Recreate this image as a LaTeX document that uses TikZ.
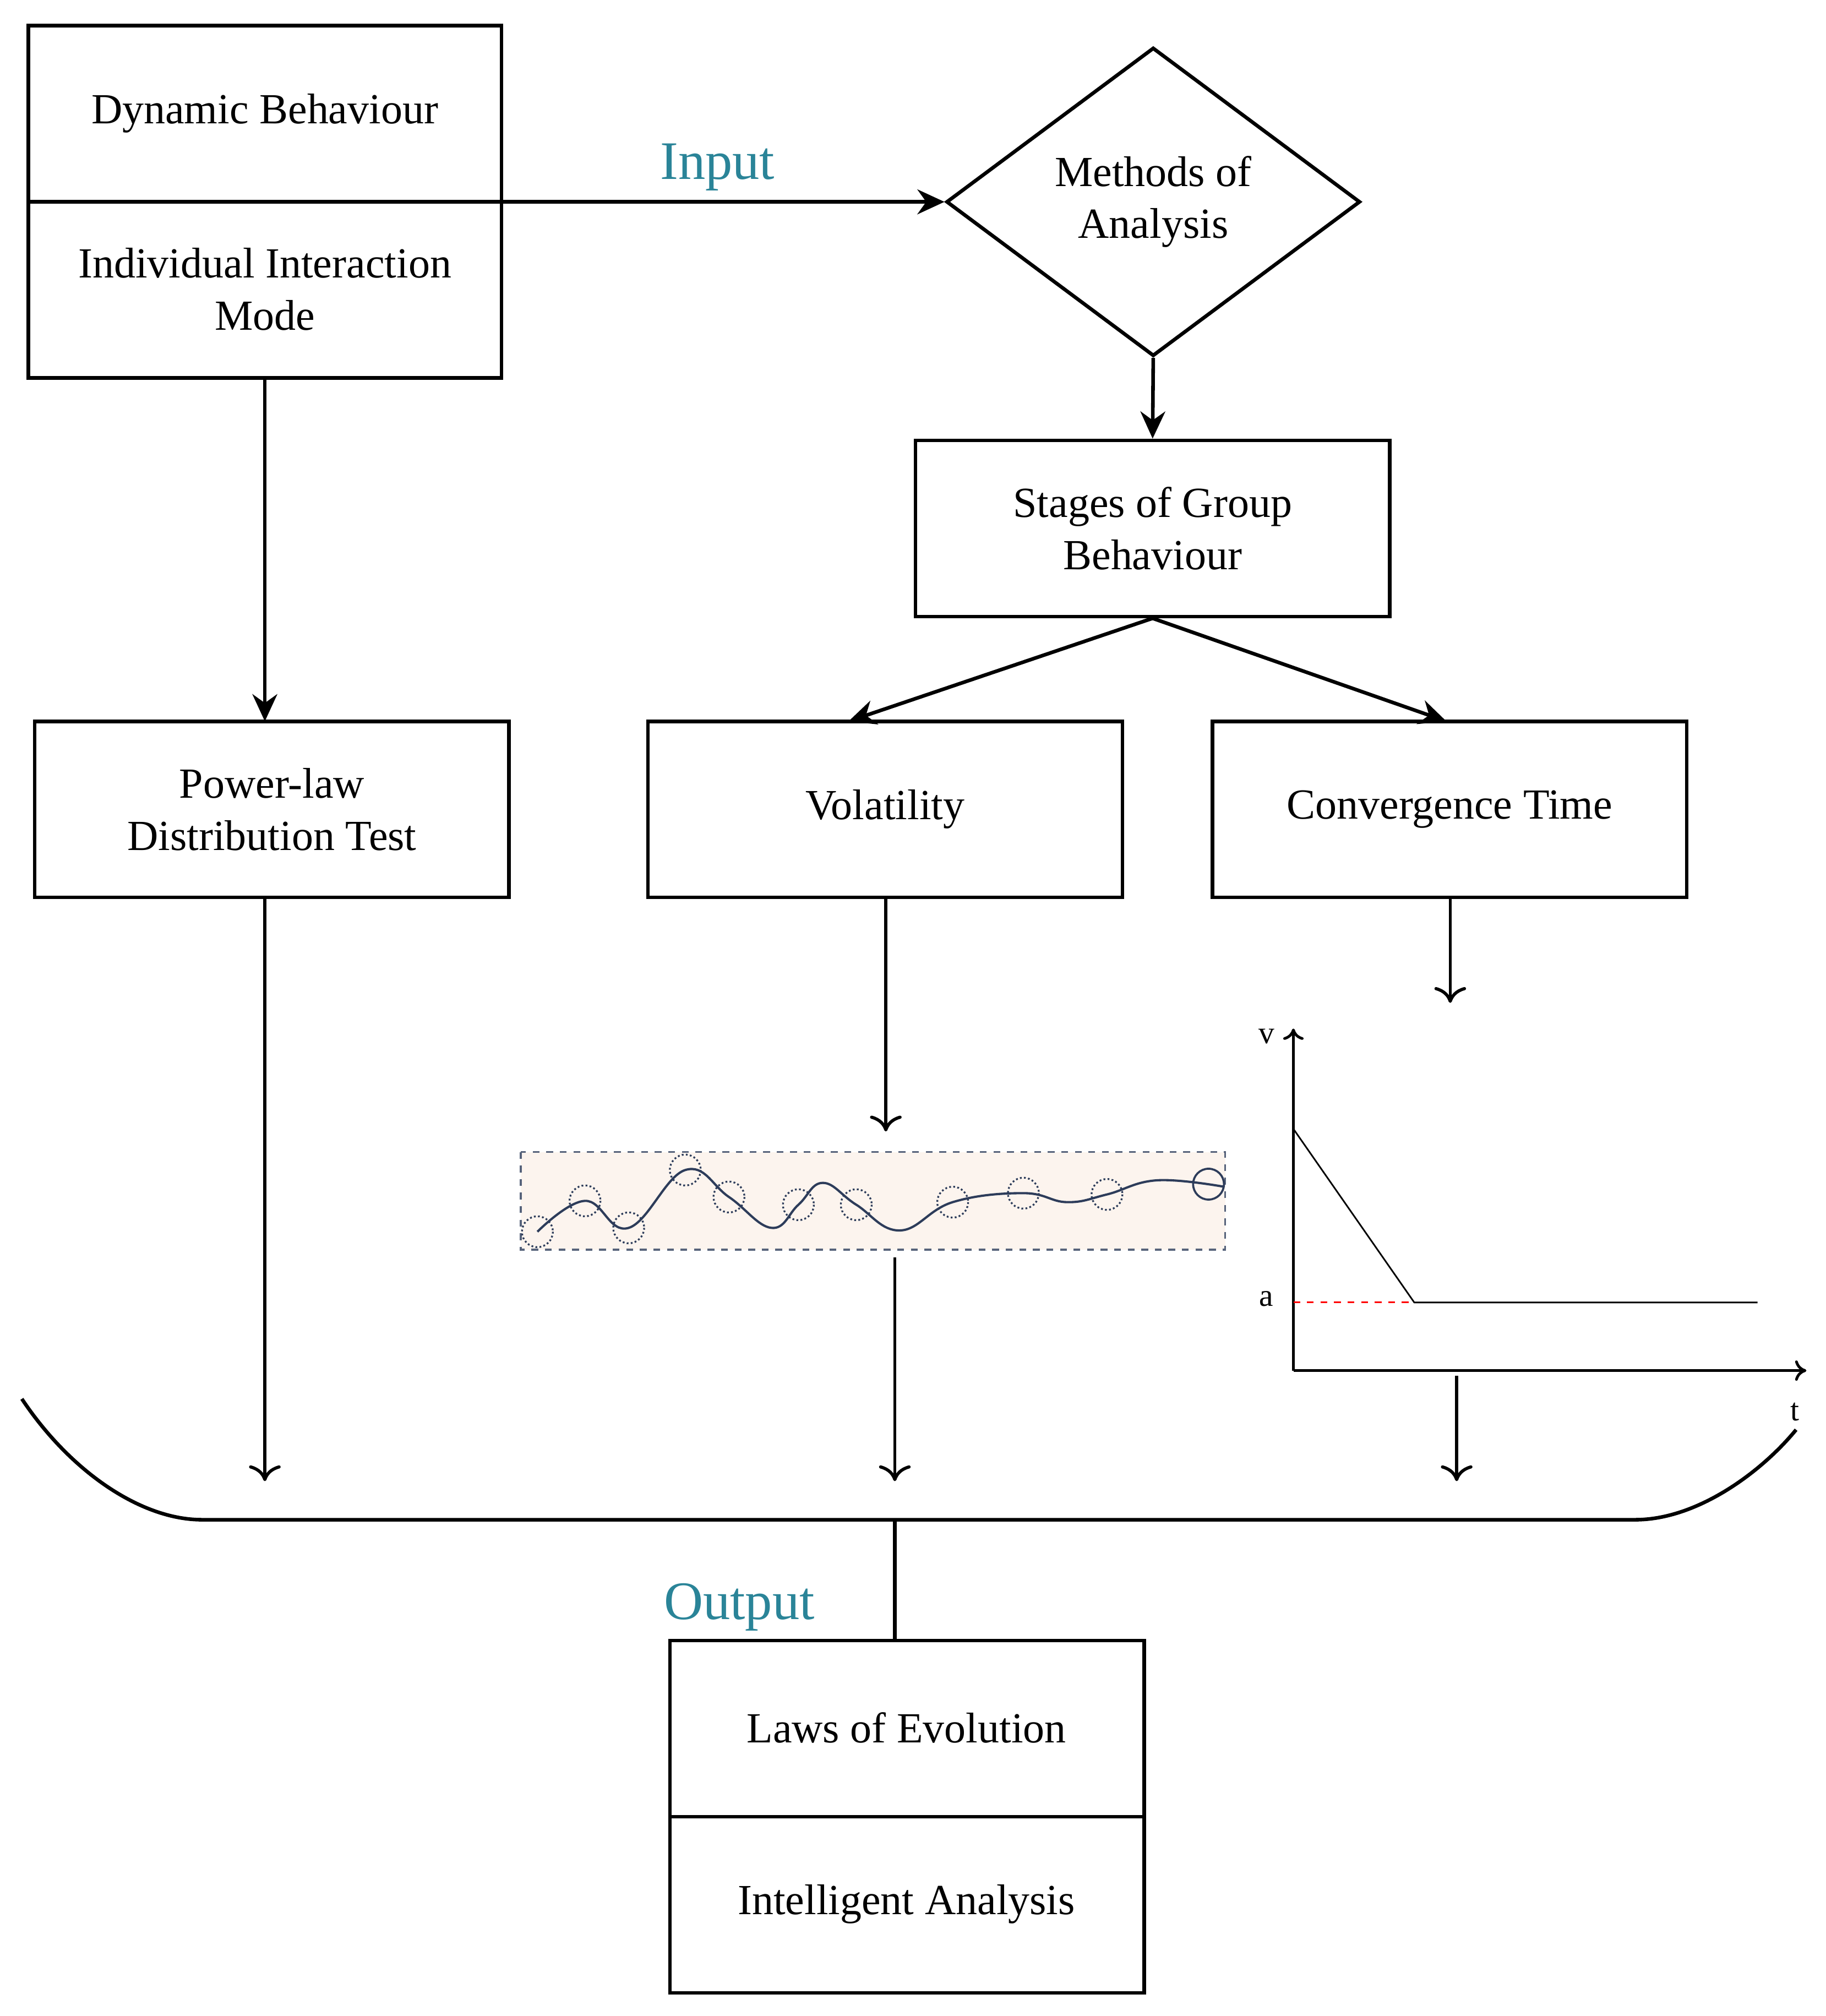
\documentclass[tikz,border=0pt]{standalone}
\usepackage{fontspec}
\setmainfont{Liberation Serif}
\usetikzlibrary{shapes.geometric,arrows.meta}
\definecolor{teal1}{RGB}{42,132,152}
\definecolor{peach}{RGB}{252,244,238}
\definecolor{wave}{RGB}{45,60,90}
\begin{document}
\begin{tikzpicture}[x=0.02cm,y=-0.02cm,
  box/.style={draw,line width=1.6pt},
  txt/.style={font=\fontsize{19}{23}\selectfont,align=center},
  lbl/.style={font=\fontsize{24}{28}\selectfont,text=teal1},
  sarr/.style={-{Stealth[length=12pt,width=11pt]},line width=1.6pt},
  oarr/.style={-{To[length=7pt,width=14pt]},line width=1.4pt},
  dc/.style={draw=wave,densely dotted,line width=0.8pt}]
\useasboundingbox (0,0) rectangle (1420,1568);
% box 1
\draw[box] (22,20) rectangle (390,294);
\draw[box] (22,157) coordinate (b1l) -- (390,157) coordinate (b1r);
\node[txt] (db) at (206,88) {Dynamic Behaviour};
\node[txt] (iim) at (206,225) {Individual Interaction\\Mode};
\coordinate (b1b) at (206,294);
% diamond
\node[draw,line width=1.6pt,diamond,aspect=1.34,minimum width=322\pgflinewidth,inner sep=0pt,
  minimum width=6.44cm,minimum height=4.8cm] (dia) at (897,157) {};
\node[txt] at (897,157) {Methods of\\Analysis};
\draw[sarr] (b1r) -- (dia.west);
\node[lbl] (inp) at (558,130) {Input};
% stages
\node[box,txt,minimum width=7.38cm,minimum height=2.74cm] (st) at (896.5,411) {Stages of Group\\Behaviour};
\draw[sarr] (dia.south) -- (st.north);
% row boxes
\node[box,txt,minimum width=7.38cm,minimum height=2.74cm] (pl) at (211.5,629.5) {Power-law\\Distribution Test};
\node[box,txt,minimum width=7.38cm,minimum height=2.74cm] (vo) at (688.5,629.5) {Volatility};
\node[box,txt,minimum width=7.38cm,minimum height=2.74cm] (ct) at (1127.5,629.5) {Convergence Time};
\coordinate (vot) at (660,561);
\coordinate (ctt) at (1125,561);
\draw[sarr] (st.south) -- (vot);
\draw[sarr] (st.south) -- (ctt);
\coordinate (plt) at (206,561);
\draw[sarr] (b1b) -- (plt);
% open arrows
\coordinate (plb) at (206,698); \coordinate (e1) at (206,1152);
\draw[oarr] (plb) -- (e1);
\coordinate (vob) at (689,698); \coordinate (e2) at (689,880);
\draw[oarr] (vob) -- (e2);
\coordinate (ctb) at (1128,698); \coordinate (e3) at (1128,780);
\draw[oarr] (ctb) -- (e3);
\coordinate (s4) at (696,978); \coordinate (e4) at (696,1152);
\draw[oarr] (s4) -- (e4);
\coordinate (s5) at (1133,1070); \coordinate (e5) at (1133,1152);
\draw[oarr] (s5) -- (e5);
% wave panel
\draw[draw=wave!80,dashed,fill=peach,line width=0.8pt] (405,896) rectangle (953,972);
\draw[wave,line width=1pt] plot[smooth,tension=0.7] coordinates {(418,958)(455,934)(489,955)(533,910)(567,931)(600,955)(621,937)(640,920)(666,937)(700,957)(741,935)(796,928)(830,935)(861,929)(900,918)(952,923)};
\foreach \p in {(418,958),(455,934),(489,955),(533,910),(567,931),(621,937),(666,937),(741,935),(796,928),(861,929)} \draw[dc] \p circle (12);
\draw[wave,line width=0.9pt] (940,921) circle (12);
% graph
\coordinate (O) at (1006,1066);
\draw[-{To[length=5pt,width=9pt]},line width=1.2pt] (O) -- (1006,800);
\draw[-{To[length=5pt,width=9pt]},line width=1.2pt] (O) -- (1405,1066);
\node[font=\fontsize{14}{16}\selectfont] at (985,806) {v};
\node[font=\fontsize{14}{16}\selectfont] at (985,1010) {a};
\node[font=\fontsize{14}{16}\selectfont] at (1396,1098) {t};
\draw[line width=0.7pt] (1006,878) -- (1100,1013) -- (1367,1013);
\draw[red,dashed,line width=0.8pt] (1006,1013) -- (1100,1013);
% bracket
\draw[line width=1.6pt] (17,1088) .. controls (55,1145) and (110,1182) .. (157,1182) -- (1272,1182) .. controls (1320,1182) and (1370,1145) .. (1397,1112);
\coordinate (bm) at (696,1182);
% bottom box
\draw[box] (521,1276) rectangle (890,1550);
\draw[box] (521,1413) -- (890,1413);
\coordinate (bt) at (696,1276);
\draw[line width=1.6pt] (bm) -- (bt);
\node[lbl] (out) at (575,1250) {Output};
\node[txt] (le) at (705,1344) {Laws of Evolution};
\node[txt] (ia) at (705,1481) {Intelligent Analysis};
\end{tikzpicture}
\end{document}
